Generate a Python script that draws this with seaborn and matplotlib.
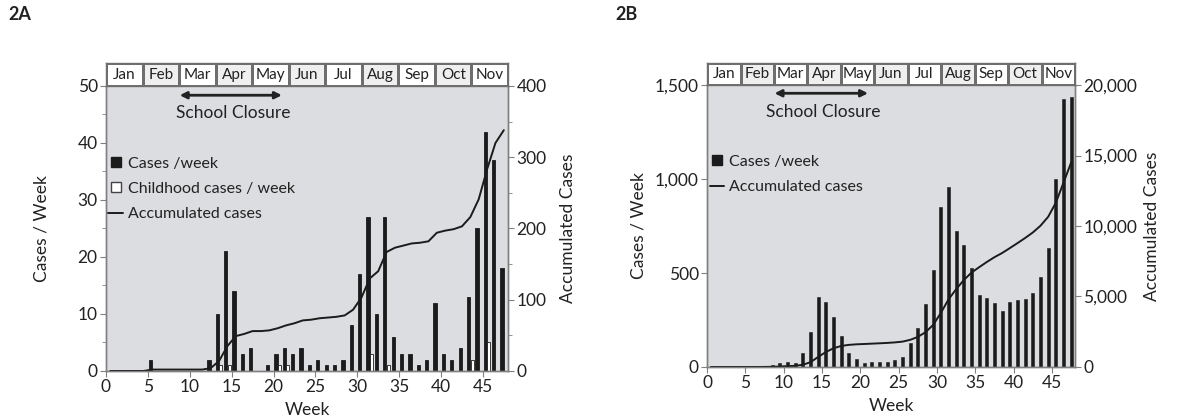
import numpy as np
import pandas as pd
import matplotlib
matplotlib.use('Agg')
import matplotlib.pyplot as plt
import seaborn as sns
from matplotlib.colors import ListedColormap
from matplotlib.lines import Line2D
from matplotlib.ticker import MultipleLocator, StrMethodFormatter

# --- Data ---
weeks = list(range(48))
months = ['Jan', 'Feb', 'Mar', 'Apr', 'May', 'Jun', 'Jul', 'Aug', 'Sep', 'Oct', 'Nov']
month_shade = [0, 1, 0, 1, 0, 1, 0, 1, 0, 1, 0]

# 2A
cases_a = [0, 0, 0, 0, 0, 2, 0, 0, 0, 0, 0, 0, 2, 10, 21, 14, 3, 4, 0, 1, 3, 4, 3, 4,
           1, 2, 1, 1, 2, 8, 17, 27, 10, 27, 6, 3, 3, 1, 2, 12, 3, 2, 4, 13, 25, 42, 37, 18]
child_a = [0, 0, 0, 0, 0, 0, 0, 0, 0, 0, 0, 0, 0, 1, 1, 0, 0, 0, 0, 0, 1, 1, 0, 0,
           0, 0, 0, 0, 0, 0, 0, 3, 0, 1, 0, 0, 0, 0, 0, 0, 0, 0, 0, 2, 0, 5, 0, 0]
accum_a = [0, 0, 0, 0, 0, 2, 2, 2, 2, 2, 2, 2, 4, 14, 35, 49, 52, 56, 56, 57, 60, 64, 67, 71,
           72, 74, 75, 76, 78, 86, 103, 130, 140, 167, 173, 176, 179, 180, 182, 194, 197, 199, 203, 216,
           241, 283, 320, 338]

# 2B
cases_b = [0, 0, 0, 0, 0, 0, 0, 5, 8, 21, 28, 21, 76, 185, 371, 348, 266, 165, 75, 41, 21, 25, 25, 27,
           37, 55, 126, 209, 335, 517, 850, 959, 725, 651, 524, 385, 369, 341, 296, 346, 355, 364, 391, 478,
           634, 999, 1424, 1434]
accum_b = [0, 0, 0, 0, 0, 0, 0, 5, 13, 34, 62, 83, 159, 344, 715, 1063, 1329, 1494, 1569, 1610, 1631,
           1656, 1681, 1708, 1745, 1800, 1926, 2135, 2470, 2987, 3837, 4796, 5521, 6172, 6696, 7081, 7450,
           7791, 8087, 8433, 8788, 9152, 9543, 10021, 10655, 11654, 13078, 14512]

# --- Style ---
sns.set_style('ticks')
plt.rcParams['font.family'] = ['Lato', 'DejaVu Sans']
BG = '#dcdde0'
BAR = '#1b1b1b'
SPINE = '#808080'
TXT = '#222222'

fig = plt.figure(figsize=(11.99, 4.2), dpi=100)


def style_axes(ax, ax2):
    ax.set_facecolor(BG)
    ax2.set_facecolor('none')
    for a in (ax, ax2):
        for s in a.spines.values():
            s.set_color(SPINE)
            s.set_linewidth(1.0)
        a.spines['top'].set_visible(False)
        a.tick_params(axis='both', which='major', direction='out', length=4,
                      color=SPINE, labelsize=12.5, labelcolor=TXT, pad=2)
        a.tick_params(axis='both', which='minor', direction='out', length=3, color=SPINE)
    ax.set_xlim(0, 48)
    ax.set_xticks(range(0, 50, 5))
    ax.set_xlabel('Week', fontsize=12.5, color=TXT, labelpad=5)


def header(rect):
    hax = fig.add_axes(rect)
    sns.heatmap(np.array([month_shade]), annot=np.array([months]), fmt='',
                cmap=ListedColormap(['white', '#efefef']), cbar=False,
                linewidths=1, linecolor='#6e6e6e', xticklabels=False, yticklabels=False,
                annot_kws={'color': TXT, 'fontsize': 11}, ax=hax)
    for s in hax.spines.values():
        s.set_visible(True)
        s.set_color('#6e6e6e')
        s.set_linewidth(1)


# ---------------- 2A ----------------
ax_a = fig.add_axes([0.0884, 0.1167, 0.3353, 0.6786])
ax_a2 = ax_a.twinx()
df_a = pd.DataFrame({
    'pos': [w + 0.5 for w in weeks] * 2,
    'cases': cases_a + child_a,
    'series': ['Cases /week'] * len(weeks) + ['Childhood cases / week'] * len(weeks),
})
sns.barplot(data=df_a, x='pos', y='cases', hue='series', native_scale=True, dodge=True,
            width=0.86, gap=0.1, palette={'Cases /week': BAR, 'Childhood cases / week': 'white'},
            edgecolor=BAR, linewidth=0.6, legend=False, ax=ax_a)
sns.lineplot(x=[w + 0.5 for w in weeks], y=accum_a, color=BAR, linewidth=1.4, ax=ax_a2)
style_axes(ax_a, ax_a2)
ax_a.set_ylim(0, 50)
ax_a.yaxis.set_major_locator(MultipleLocator(10))
ax_a.yaxis.set_minor_locator(MultipleLocator(5))
ax_a2.set_ylim(0, 400)
ax_a2.yaxis.set_major_locator(MultipleLocator(100))
ax_a2.yaxis.set_minor_locator(MultipleLocator(50))
ax_a.set_ylabel('Cases / Week', fontsize=12.5, color=TXT, labelpad=20)
ax_a2.set_ylabel('Accumulated Cases', fontsize=12.5, color=TXT, rotation=90, labelpad=10)
ax_a2.annotate('', xy=(21.0, 387), xytext=(8.8, 387),
               arrowprops=dict(arrowstyle='<|-|>', color=TXT, lw=2, mutation_scale=10, shrinkA=0, shrinkB=0))
ax_a2.text(15.2, 362, 'School Closure', ha='center', va='center', fontsize=12.5, color=TXT)
handles_a = [
    Line2D([], [], marker='s', linestyle='none', markerfacecolor=BAR, markeredgecolor=BAR, markersize=7),
    Line2D([], [], marker='s', linestyle='none', markerfacecolor='white', markeredgecolor='#444', markersize=7),
    Line2D([], [], color=BAR, linewidth=1.4),
]
ax_a2.legend(handles_a, ['Cases /week', 'Childhood cases / week', 'Accumulated cases'],
             loc='upper left', bbox_to_anchor=(-0.01, 0.775), frameon=False, fontsize=11.5,
             handlelength=0.9, handletextpad=0.3, labelspacing=0.7, borderaxespad=0, labelcolor=TXT)
header([0.0884, 0.7952, 0.3353, 0.0548])

# ---------------- 2B ----------------
ax_b = fig.add_axes([0.5897, 0.1262, 0.3069, 0.6714])
ax_b2 = ax_b.twinx()
sns.barplot(x=[w + 0.5 for w in weeks], y=cases_b, native_scale=True, width=0.4,
            color=BAR, edgecolor=BAR, linewidth=0.4, ax=ax_b)
sns.lineplot(x=[w + 0.5 for w in weeks], y=accum_b, color=BAR, linewidth=1.4, ax=ax_b2)
style_axes(ax_b, ax_b2)
ax_b.set_ylim(0, 1500)
ax_b.yaxis.set_major_locator(MultipleLocator(500))
ax_b.yaxis.set_major_formatter(StrMethodFormatter('{x:,.0f}'))
ax_b2.set_ylim(0, 20000)
ax_b2.yaxis.set_major_locator(MultipleLocator(5000))
ax_b2.yaxis.set_major_formatter(StrMethodFormatter('{x:,.0f}'))
ax_b.set_ylabel('Cases / Week', fontsize=12.5, color=TXT, labelpad=6)
ax_b2.set_ylabel('Accumulated Cases', fontsize=12.5, color=TXT, rotation=90, labelpad=5)
ax_b.annotate('', xy=(21.0, 1456), xytext=(8.8, 1456),
              arrowprops=dict(arrowstyle='<|-|>', color=TXT, lw=2, mutation_scale=10, shrinkA=0, shrinkB=0))
ax_b.text(15.2, 1358, 'School Closure', ha='center', va='center', fontsize=12.5, color=TXT)
handles_b = [
    Line2D([], [], marker='s', linestyle='none', markerfacecolor=BAR, markeredgecolor=BAR, markersize=7),
    Line2D([], [], color=BAR, linewidth=1.4),
]
ax_b2.legend(handles_b, ['Cases /week', 'Accumulated cases'],
             loc='upper left', bbox_to_anchor=(-0.01, 0.775), frameon=False, fontsize=11.5,
             handlelength=0.9, handletextpad=0.3, labelspacing=0.7, borderaxespad=0, labelcolor=TXT)
header([0.5897, 0.7976, 0.3069, 0.0524])

fig.text(0.007, 0.965, '2A', fontsize=13, fontweight='bold', color=TXT, va='center')
fig.text(0.513, 0.965, '2B', fontsize=13, fontweight='bold', color=TXT, va='center')

fig.savefig('out.png', dpi=100)
